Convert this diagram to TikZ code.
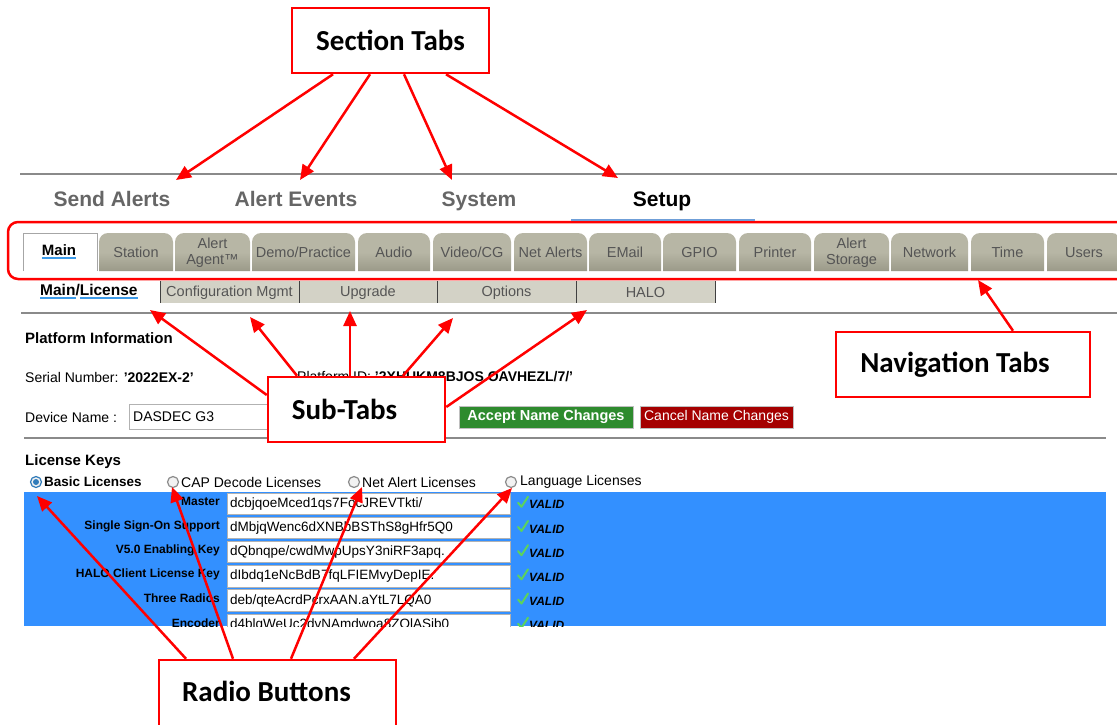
\documentclass[tikz,border=0pt]{standalone}
\usepackage{fontspec}
\setmainfont{Liberation Sans}
\newfontfamily\calib{Carlito}
\usetikzlibrary{arrows.meta}
\definecolor{annred}{HTML}{FF0000}
\definecolor{uiline}{HTML}{8A8A8A}
\definecolor{secgray}{HTML}{666666}
\definecolor{tabtxt}{HTML}{555555}
\definecolor{tabtop}{HTML}{B7B6A5}
\definecolor{tabbot}{HTML}{9B9A89}
\definecolor{subgray}{HTML}{D3D2C6}
\definecolor{ulblue}{HTML}{3D9BE9}
\definecolor{setupblue}{HTML}{6F9FD8}
\definecolor{bluebg}{HTML}{3390FF}
\definecolor{okgreen}{HTML}{2E8B2E}
\definecolor{nored}{HTML}{A50000}
\definecolor{chk}{HTML}{5CD35C}
\newcommand\fsz[2]{\fontsize{#1}{#2}\selectfont}
\newcommand\bul[1]{\setbox0=\hbox{#1}\rlap{\color{ulblue}\rule[-3.5pt]{\wd0}{2pt}}\box0}
\tikzset{
  annbox/.style={draw=annred, line width=2.5pt, fill=white, inner sep=0pt,
    font=\calib\bfseries\fsz{29}{34}},
  arr/.style={draw=annred, line width=2.5pt, -{Triangle[length=15pt,width=13pt]}},
  sect/.style={font=\bfseries\fsz{21}{25}, text=secgray, anchor=base},
  tablbl/.style={font=\fsz{14.5}{16}, text=tabtxt, align=center, inner sep=0pt},
  ui/.style={font=\fsz{14}{16}, inner sep=0pt},
  uiline/.style={draw=uiline, line width=2pt},
  rlab/.style={font=\bfseries\fsz{12}{14}, inner sep=0pt, anchor=east},
  rval/.style={font=\fsz{13.5}{16}, inner sep=0pt, anchor=west},
  field/.style={draw=black!30, fill=white, line width=1pt},
  radio/.style={circle, draw=black!45, fill=black!5, line width=1.2pt, minimum size=11pt, inner sep=0pt}
}
\begin{document}
\begin{tikzpicture}[x=1pt,y=-1pt]
\useasboundingbox (0,0) rectangle (1117,725);
\fill[white] (0,0) rectangle (1117,725);

% ---------- horizontal rules
\draw[uiline] (20,174) -- (1117,174);
\draw[uiline] (21,313) -- (1117,313);
\draw[uiline] (24,438) -- (1106,438);

% ---------- section tabs
\node[sect] (sSend) at (112,206.5) {Send Alerts};
\node[sect] (sEvents) at (296,206.5) {Alert Events};
\node[sect] (sSystem) at (479,206.5) {System};
\node[sect, text=black] (sSetup) at (662,206.5) {Setup};

% ---------- navigation tabs
\draw[annred, line width=2.5pt, rounded corners=10pt] (8,222) rectangle (1135,279);
\draw[setupblue, line width=2pt] (571,220) -- (755,220);
\draw[black!35, fill=white, line width=1pt] (23,271) -- (23,233) -- (97,233) -- (97,271);
\node[font=\bfseries\fsz{15}{17}, inner sep=0pt] (tMain) at (59,252) {\bul{Main}};
\foreach \a/\b/\t [count=\i] in {
  99/173/{Station}, 175/250/{Alert\\Agent™}, 252/355/{Demo/Practice}, 358/430/{Audio},
  433/511/{Video/CG}, 514/587/{Net Alerts}, 589/661/{EMail}, 663/736/{GPIO},
  739/811/{Printer}, 814/889/{Alert\\Storage}, 891/968/{Network}, 971/1044/{Time},
  1047/1121/{Users}}{
  \shade[top color=tabtop, bottom color=tabbot, middle color=tabtop, rounded corners=9pt]
    (\a,271) -- (\a,233) -- (\b,233) -- (\b,271);
  \node[tablbl] (tab\i) at ({(\a+\b)/2},252.5) {\t};
}

% ---------- sub tabs
\fill[subgray] (160,281) rectangle (715,303);
\foreach \x in {160,299,437,576,715} \draw[black!75, line width=1pt] (\x,281) -- (\x,303);
\node[font=\bfseries\fsz{15.5}{17}, inner sep=0pt, anchor=west] (stMain) at (40,292) {\bul{Main}/\bul{License}};
\node[tablbl] (st1) at (229.5,293) {Configuration Mgmt};
\node[tablbl] (st2) at (368,293) {Upgrade};
\node[tablbl] (st3) at (506.5,293) {Options};
\node[tablbl] (st4) at (645.5,293) {HALO};

% ---------- platform information
\node[font=\bfseries\fsz{15}{17}, inner sep=0pt, anchor=west] (pinfo) at (25,338) {Platform Information};
\node[ui, anchor=west] (serial) at (25,377) {Serial Number: \textbf{'2022EX-2'}};
\node[ui, anchor=west] (platid) at (297,377) {Platform ID: \textbf{'2XHUKM8BJOS.OAVHEZL/7/'}};
\node[ui, anchor=west] (devname) at (25,417) {Device Name :};
\draw[field] (129,404) rectangle (300,429);
\node[ui, anchor=west] (devval) at (133,417) {DASDEC G3};
\node[fill=okgreen, draw=black!25, text=white, font=\bfseries\fsz{14.5}{16}, inner sep=0pt,
  minimum width=174pt, minimum height=22pt] (accept) at (546,417) {Accept Name Changes};
\node[fill=nored, draw=black!25, text=white, font=\fsz{14}{16}, inner sep=0pt,
  minimum width=153pt, minimum height=22pt] (cancel) at (716.5,417) {Cancel Name Changes};

% ---------- license keys
\node[font=\bfseries\fsz{15}{17}, inner sep=0pt, anchor=west] (lkeys) at (25,462) {License Keys};
\node[radio, draw=ulblue!80!black] (r1) at (36,482) {};
\fill[ulblue!80!black] (r1.center) circle (3);
\node[radio] (r2) at (173,482) {};
\node[radio] (r3) at (354,482) {};
\node[radio] (r4) at (511,482) {};
\node[font=\bfseries\fsz{13.5}{16}, inner sep=0pt, anchor=west] (l1) at (44,482) {Basic Licenses};
\node[ui, anchor=west] (l2) at (181,482) {CAP Decode Licenses};
\node[ui, anchor=west] (l3) at (362,482) {Net Alert Licenses};
\node[ui, anchor=west] (l4) at (520,482) {Language Licenses};

\fill[bluebg] (24,492) rectangle (1106,626);
\begin{scope}
\clip (24,492) rectangle (1106,626);
\foreach \lab/\val [count=\i from 0] in {
  {Master}/{dcbjqoeMced1qs7FocJREVTkti/},
  {Single Sign-On Support}/{dMbjqWenc6dXNBbBSThS8gHfr5Q0},
  {V5.0 Enabling Key}/{dQbnqpe/cwdMwpUpsY3niRF3apq.},
  {HALO Client License Key}/{dIbdq1eNcBdB7fqLFIEMvyDepIE.},
  {Three Radios}/{deb/qteAcrdPcrxAAN.aYtL7LQA0},
  {Encoder}/{d4blqWeUc2dvNAmdwoa8ZOlASib0}}{
  \pgfmathsetmacro\top{493+24.2*\i}
  \pgfmathsetmacro\mid{\top+10.75}
  \draw[field] (227,\top) rectangle (510,\top+21.5);
  \node[rlab] (rl\i) at (220,\mid-2) {\lab};
  \node[rval] (rv\i) at (230,\mid) {\val};
  \draw[chk, line width=2pt, line cap=round, line join=round] (518,\mid-1) -- (521.5,\mid+3) -- (528,\mid-7);
  \node[font=\bfseries\itshape\fsz{12}{14}, inner sep=0pt, anchor=west] (ok\i) at (529,\mid+1) {VALID};
}
\end{scope}

% ---------- annotation boxes
\node[annbox, minimum width=197pt, minimum height=65pt] (secbox) at (390.5,40.5) {Section Tabs};
\node[annbox, minimum width=177pt, minimum height=65pt] (subbox) at (356.5,409.5) {Sub-Tabs\hspace*{24pt}};
\node[annbox, minimum width=254pt, minimum height=65pt] (navbox) at (963,364.5) {Navigation Tabs\hspace*{16pt}};
\node[annbox, minimum width=237pt, minimum height=70pt] (radbox) at (277.5,695) {\raisebox{8pt}{Radio Buttons}\hspace*{22pt}};

% ---------- arrow targets
\coordinate (tSend) at (176,180);
\coordinate (tEvents) at (300,180);
\coordinate (tSystem) at (452,180);
\coordinate (tSetup) at (618,178);
\coordinate (tSub1) at (150,310);
\coordinate (tSub2) at (250,317);
\coordinate (tSub3) at (350,311);
\coordinate (tSub4) at (453,318);
\coordinate (tSub5) at (587,310);
\coordinate (tNav) at (978,280);
\coordinate (tR1) at (37,496);
\coordinate (tR2) at (172,487);
\coordinate (tR3) at (362,487);
\coordinate (tR4) at (512,488);

% ---------- arrows
\draw[arr] ([xshift=-57.5pt]secbox.south) -- (tSend);
\draw[arr] ([xshift=-20.5pt]secbox.south) -- (tEvents);
\draw[arr] ([xshift=13.5pt]secbox.south) -- (tSystem);
\draw[arr] ([xshift=55.5pt]secbox.south) -- (tSetup);

\draw[arr] ([yshift=14.5pt]subbox.west) -- (tSub1);
\draw[arr] ([xshift=-59.5pt]subbox.north) -- (tSub2);
\draw[arr] ([xshift=-6.5pt]subbox.north) -- (tSub3);
\draw[arr] ([xshift=46.5pt]subbox.north) -- (tSub4);
\draw[arr] ([yshift=2.5pt]subbox.east) -- (tSub5);

\draw[arr] ([xshift=50pt]navbox.north) -- (tNav);

\draw[arr] ([xshift=-91.5pt]radbox.north) -- (tR1);
\draw[arr] ([xshift=-44.5pt]radbox.north) -- (tR2);
\draw[arr] ([xshift=13.5pt]radbox.north) -- (tR3);
\draw[arr] ([xshift=76.5pt]radbox.north) -- (tR4);
\end{tikzpicture}
\end{document}
